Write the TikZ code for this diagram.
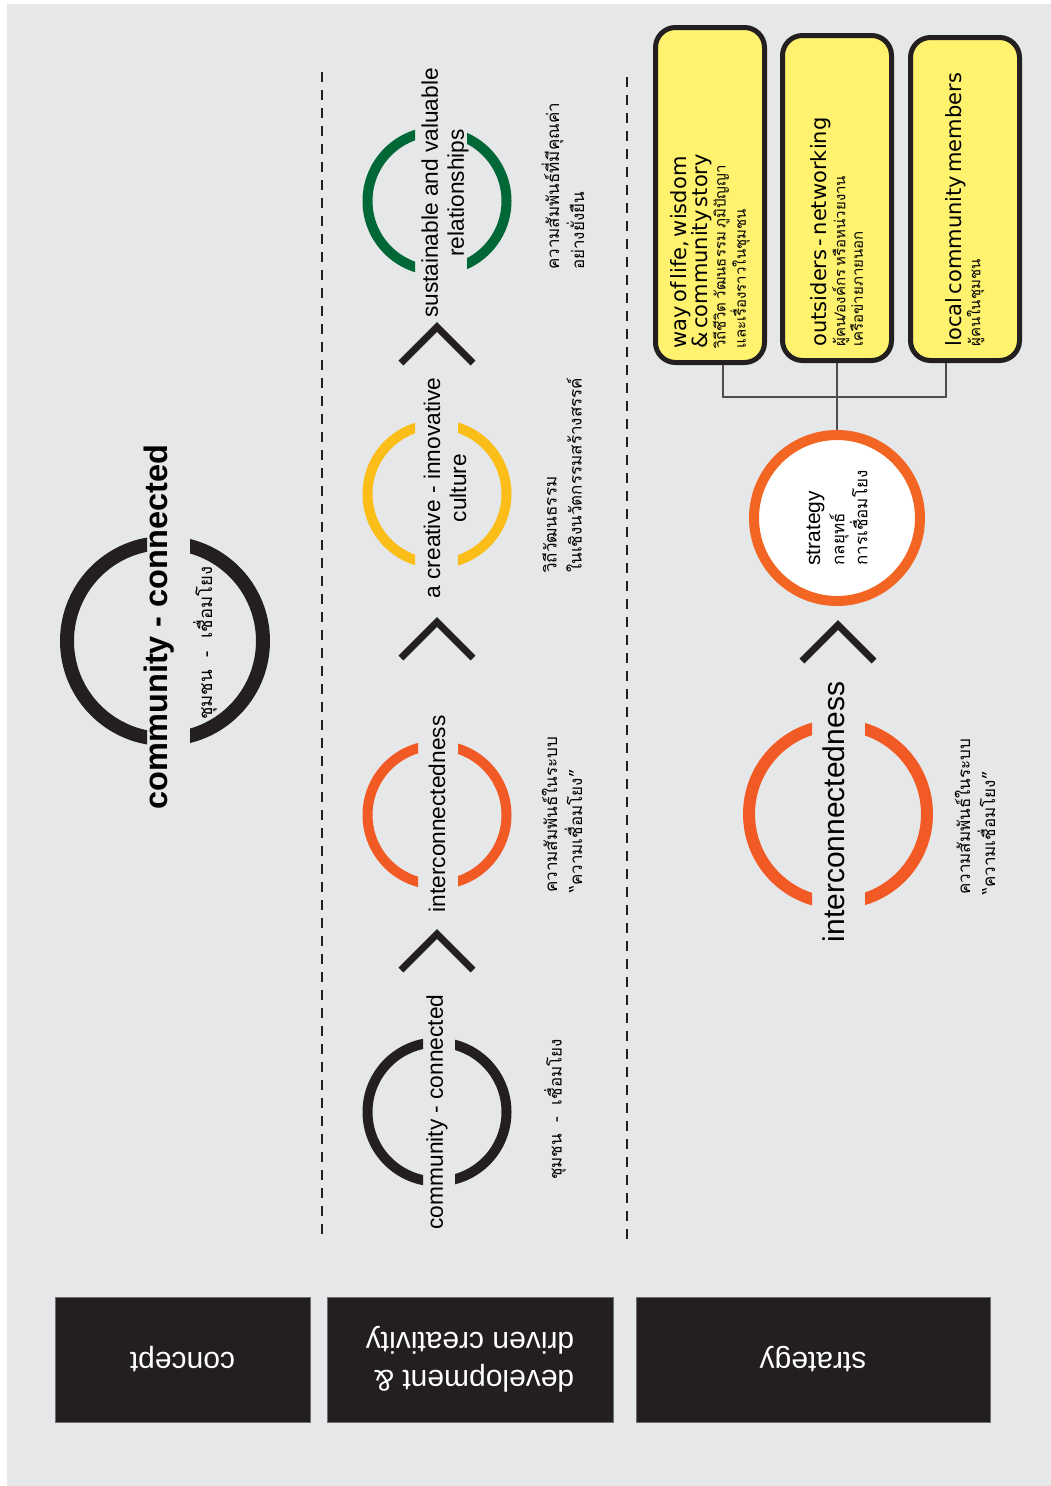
\documentclass[tikz,border=0pt]{standalone}
\usepackage{fontspec}
\setmainfont{Liberation Sans}
\newfontfamily\thaifont[Script=Thai]{Loma}
\newfontfamily\boxfont{DejaVu Sans}
\usetikzlibrary{positioning}

\definecolor{bggray}{RGB}{230,231,232}
\definecolor{ink}{RGB}{35,31,32}
\definecolor{ringorange}{RGB}{241,90,36}
\definecolor{stratorange}{RGB}{242,101,34}
\definecolor{ringyellow}{RGB}{251,189,24}
\definecolor{ringgreen}{RGB}{0,104,55}
\definecolor{boxyellow}{RGB}{255,242,110}
\definecolor{edgegray}{RGB}{109,110,113}

% ring cut open where the label runs through: cx, cy, radius, width, gap from, gap to, colour
\newcommand{\splitring}[7]{%
  \begin{scope}
    \clip (#1-#3-#4,#2-#3-#4) rectangle (#5,#2+#3+#4);
    \draw[#7,line width=#4pt] (#1,#2) circle[radius=#3pt];
  \end{scope}
  \begin{scope}
    \clip (#6,#2-#3-#4) rectangle (#1+#3+#4,#2+#3+#4);
    \draw[#7,line width=#4pt] (#1,#2) circle[radius=#3pt];
  \end{scope}}

\begin{document}
\begin{tikzpicture}[x=1pt,y=-1pt,
    title/.style={rotate=90,align=center,inner sep=0pt,font=\fontsize{22.7}{26}\selectfont},
    thai/.style={rotate=90,align=left,anchor=west,inner sep=0pt,font=\thaifont\fontsize{17}{25}\selectfont},
    chevron/.style={ink,line width=7pt,line join=miter},
    rowlabel/.style={fill=ink,draw=edgegray,line width=1pt,text=white,rotate=180,align=left,
      minimum height=125pt,font=\fontsize{30}{38}\selectfont},
    infobox/.style={fill=boxyellow,draw=ink,line width=5pt,rounded corners=20pt,rotate=90,
      align=left,inner xsep=14pt,minimum height=109pt},
    link/.style={draw=ink!80,line width=1.5pt},
    divider/.style={ink,line width=2.5pt,dash pattern=on 10pt off 8pt}]
    \useasboundingbox (0,0) rectangle (1051,1486);
    \fill[bggray] (7,4) rectangle (1051,1486);

    % concept
    \splitring{165}{641}{98}{14}{147}{190}{ink}
    \node[title,font=\bfseries\fontsize{32.5}{36}\selectfont] (conceptname) at (159,627) {community - connected};
    \node[thai,font=\thaifont\fontsize{18.5}{24}\selectfont] (conceptthai) at (205,720) {ชุมชน~~-~~เชื่อมโยง};

    \draw[divider] (322,72) -- (322,1240);
    \draw[divider] (627,77) -- (627,1245);

    % development & driven creativity
    \splitring{437}{1112}{69.5}{10}{423}{455}{ink}
    \node[title] (devcc) at (437,1112) {community - connected};
    \node[thai] (devccthai) at (555,1180) {ชุมชน~~-~~เชื่อมโยง};
    \splitring{437}{815}{69.5}{10}{418}{458}{ringorange}
    \node[title] (devic) at (437,814) {interconnectedness};
    \node[thai] (devicthai) at (562,893) {ความสัมพันธ์ในระบบ\\“ความเชื่อมโยง”};
    \splitring{437}{494}{69.5}{10}{415}{458}{ringyellow}
    \node[title] (devci) at (445,488) {a creative - innovative\\culture};
    \node[thai] (devcithai) at (562,573) {วิถีวัฒนธรรม\\ในเชิงนวัตกรรมสร้างสรรค์};
    \splitring{437}{201}{69.5}{10}{415}{467}{ringgreen}
    \node[title] (devsv) at (445,193) {sustainable and valuable\\relationships};
    \node[thai] (devsvthai) at (563,270) {ความสัมพันธ์ที่มีคุณค่า\\อย่างยั่งยืน};

    \foreach \cx/\cy in {437/934, 437/622, 437/327, 838/625}
        \draw[chevron] (\cx-36,\cy+36) -- (\cx,\cy) -- (\cx+36,\cy+36);

    % strategy
    \splitring{838}{814}{89}{12}{812}{865}{ringorange}
    \node[title,font=\fontsize{30}{34}\selectfont] (stic) at (834,812) {interconnectedness};
    \node[thai] (sticthai) at (975,895) {ความสัมพันธ์ในระบบ\\“ความเชื่อมโยง”};
    \node[circle,draw=stratorange,line width=10pt,fill=white,minimum size=166pt,rotate=90,
        align=left,inner sep=0pt,font=\fontsize{17}{18}\selectfont] (strat) at (837,518)
        {{\fontsize{21}{21}\selectfont strategy}\\[4pt]{\thaifont กลยุทธ์}\\{\thaifont การเชื่อมโยง}};

    \node[infobox,minimum width=335pt,text width=307pt] (box1) at (710,195)
        {\boxfont\fontsize{21}{18}\selectfont way of life, wisdom\\\& community story\par
         \thaifont\fontsize{15}{15}\selectfont วิถีชีวิต วัฒนธรรม ภูมิปัญญา\\และเรื่องราวในชุมชน};
    \node[infobox,minimum width=325pt,text width=297pt] (box2) at (837,198)
        {\boxfont\fontsize{21}{18}\selectfont outsiders - networking\par
         \thaifont\fontsize{15}{15}\selectfont ผู้คน/องค์กร หรือหน่วยงาน\\เครือข่ายภายนอก};
    \node[infobox,minimum width=323pt,text width=295pt] (box3) at (965,199)
        {\boxfont\fontsize{21}{18}\selectfont local community members\par
         \thaifont\fontsize{15}{15}\selectfont ผู้คนในชุมชน};

    \coordinate (j1) at (723,397);
    \coordinate (j3) at (946,397);
    \draw[link] (j1 |- box1.west) -- (j1) -- (j3) -- (j3 |- box3.west);
    \draw[link] (box2) -- (strat);

    % row labels
    \node[rowlabel,minimum width=255pt] (lblconcept) at (182.5,1359.5) {concept};
    \node[rowlabel,minimum width=286pt] (lbldev) at (470,1359.5) {development \&\\driven creativity};
    \node[rowlabel,minimum width=354pt] (lblstrat) at (813,1359.5) {strategy};
\end{tikzpicture}
\end{document}
